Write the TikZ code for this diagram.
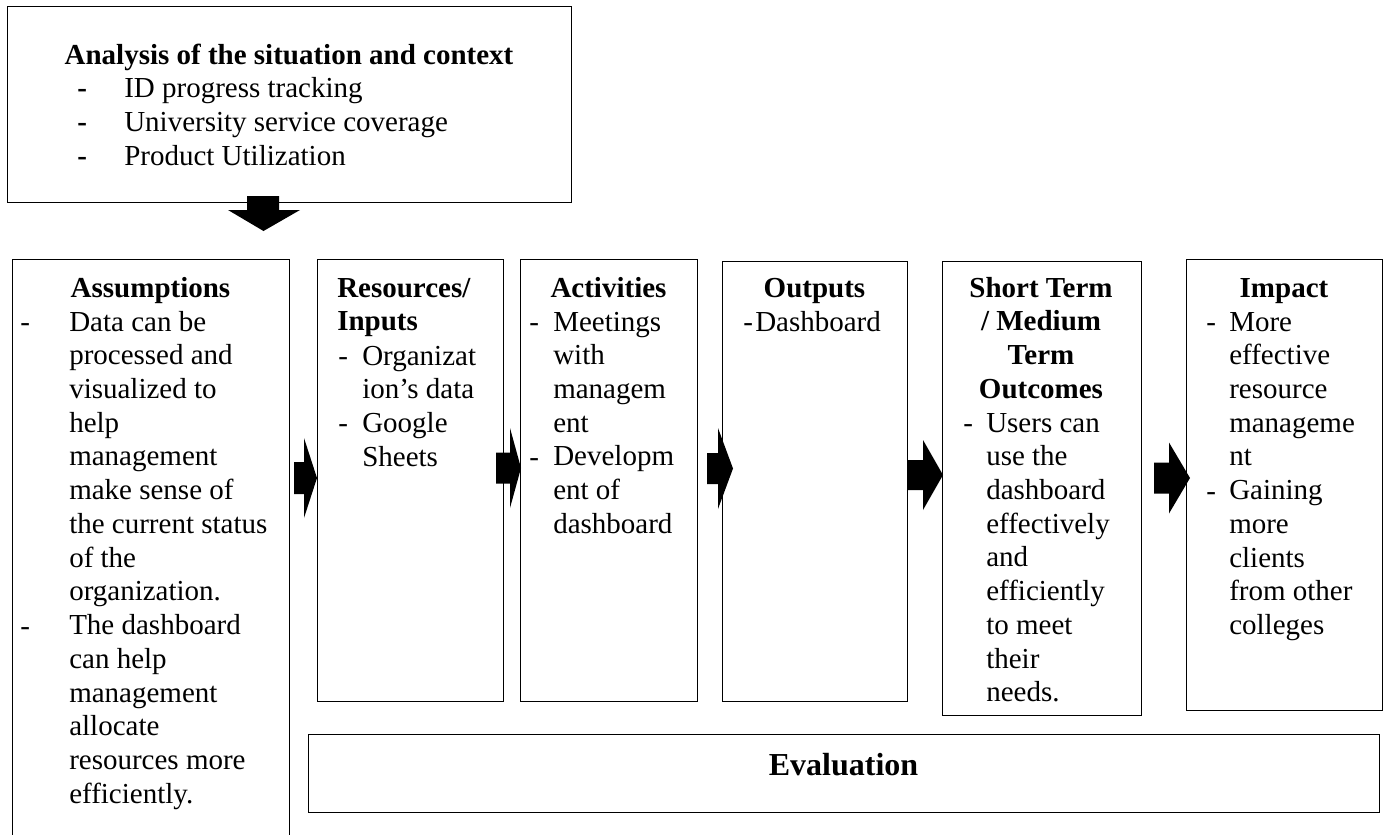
\documentclass[tikz,border=0pt]{standalone}
\usepackage{fontspec}
\setmainfont{Liberation Serif}
\newcommand\lns[1]{\begin{tabular}[t]{@{}l@{}}#1\end{tabular}}
\newcommand\ctr[1]{\begin{tabular}[t]{@{}c@{}}#1\end{tabular}}
\newcommand\bx[5]{\node[box, minimum width={(#4-#2)*0.75pt}, minimum height={(#5-#3)*0.75pt}] (#1) at (#2,#3) {};}
\newcommand\rar[6]{\fill[blk] (#1,#4-#5) -- (#2,#4-#5) -- (#2,#4-#6) -- (#3,#4) -- (#2,#4+#6) -- (#2,#4+#5) -- (#1,#4+#5) -- cycle;}
\begin{document}
\begin{tikzpicture}[x=0.75pt,y=-0.75pt,
  box/.style={draw=black, line width=0.8pt, rectangle, inner sep=0pt, anchor=north west},
  txt/.style={inner sep=0pt, anchor=base west, font=\fontsize{21.75}{25.3}\selectfont},
  btxt/.style={inner sep=0pt, anchor=base west, font=\fontsize{21.75}{25.3}\selectfont\bfseries},
  ttl/.style={inner sep=0pt, anchor=base, font=\fontsize{21.75}{25.3}\selectfont\bfseries},
  blk/.style={fill=black}]
\useasboundingbox (0,0) rectangle (1385,835);
\fill[white] (0,0) rectangle (1385,835);

% boxes
\bx{top}{7}{6}{571}{202}
\bx{assump}{12}{259}{289}{845}
\bx{res}{317}{259}{503}{701}
\bx{act}{520}{259}{697}{701}
\bx{out}{722}{261}{907}{701}
\bx{st}{942}{261}{1141}{715}
\bx{imp}{1186}{259}{1382}{710}
\bx{eval}{308}{734}{1379}{812}

% top box text
\node[ttl] (topT) at (289,64) {Analysis of the situation and context};
\node[btxt] (topD) at (77,97.7) {\lns{-\\-\\-}};
\node[txt] (topB) at (124,97.7) {\lns{ID progress tracking\\University service coverage\\Product Utilization}};

% assumptions
\node[ttl] (assT) at (150.5,297) {Assumptions};
\node[txt] (assD1) at (20,331) {-};
\node[txt] (assD2) at (20,635) {-};
\node[txt] (assB) at (69,331) {\lns{Data can be\\processed and\\visualized to\\help\\management\\make sense of\\the current status\\of the\\organization.\\The dashboard\\can help\\management\\allocate\\resources more\\efficiently.}};

% resources
\node[btxt] (resT) at (337,297) {\lns{Resources/\\Inputs}};
\node[txt] (resD1) at (338,365) {-};
\node[txt] (resD2) at (338,432) {-};
\node[txt] (resB) at (362,365) {\lns{Organizat\\ion’s data\\Google\\Sheets}};

% activities
\node[ttl] (actT) at (608.5,297) {Activities};
\node[txt] (actD1) at (529,331) {-};
\node[txt] (actD2) at (529,466) {-};
\node[txt] (actB) at (553,331) {\lns{Meetings\\with\\managem\\ent\\Developm\\ent of\\dashboard}};

% outputs
\node[ttl] (outT) at (814.5,297) {Outputs};
\node[txt] (outD) at (743,331) {-};
\node[txt] (outB) at (755,331) {Dashboard};

% short / medium term
\node[ttl] (stT) at (1041,297) {\ctr{Short Term\\/ Medium\\Term\\Outcomes}};
\node[txt] (stD) at (963,432) {-};
\node[txt] (stB) at (986,432) {\lns{Users can\\use the\\dashboard\\effectively\\and\\efficiently\\to meet\\their\\needs.}};

% impact
\node[ttl] (impT) at (1284,297) {Impact};
\node[txt] (impD1) at (1206,331) {-};
\node[txt] (impD2) at (1206,500) {-};
\node[txt] (impB) at (1229,331) {\lns{More\\effective\\resource\\manageme\\nt\\Gaining\\more\\clients\\from other\\colleges}};

% evaluation
\node[inner sep=0pt, anchor=base, font=\fontsize{24}{28}\selectfont\bfseries] (evalT) at (843.5,775) {Evaluation};

% block arrows
\fill[blk] (247,196) -- (279,196) -- (279,210) -- (300,210) -- (263.5,231) -- (228,210) -- (247,210) -- cycle;
\rar{294}{304}{317}{478}{16}{40}
\rar{496}{510}{521}{468}{15.5}{40}
\rar{707}{718}{733}{468.5}{15.5}{40.5}
\rar{908}{923}{943}{475}{15}{35}
\rar{1154}{1169}{1190}{478}{15.5}{35.5}
\end{tikzpicture}
\end{document}
